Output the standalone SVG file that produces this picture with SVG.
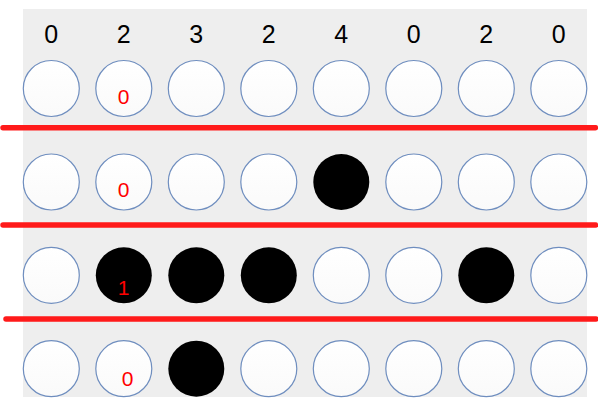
<svg xmlns="http://www.w3.org/2000/svg" width="598" height="413" viewBox="0 0 598 413">
<style>
.top{font-family:"Liberation Sans",Arial,sans-serif;font-size:25px;fill:#000;text-anchor:middle}
.red{font-family:"Liberation Sans",Arial,sans-serif;font-size:21px;fill:#ff0000;text-anchor:middle}
.e{fill:url(#g);stroke:#6f8ebf;stroke-width:1.2}
.f{fill:#000}
.sep{stroke:#ff1a1a;stroke-width:5.5;stroke-linecap:round}
</style>
<defs>
<linearGradient id="g" x1="0" y1="0" x2="0" y2="1">
<stop offset="0" stop-color="#ffffff"/>
<stop offset="1" stop-color="#fafafa"/>
</linearGradient>
</defs>
<rect x="23" y="9" width="564" height="388" fill="#eeeeee"/>
<g id="labels">
<text class="top" x="51.3" y="43">0</text>
<text class="top" x="123.8" y="43">2</text>
<text class="top" x="196.3" y="43">3</text>
<text class="top" x="268.8" y="43">2</text>
<text class="top" x="341.3" y="43">4</text>
<text class="top" x="413.8" y="43">0</text>
<text class="top" x="486.3" y="43">2</text>
<text class="top" x="558.8" y="43">0</text>
</g>
<g id="row1">
<circle class="e" cx="51.3" cy="88.5" r="28"/>
<circle class="e" cx="123.8" cy="88.5" r="28"/>
<circle class="e" cx="196.3" cy="88.5" r="28"/>
<circle class="e" cx="268.8" cy="88.5" r="28"/>
<circle class="e" cx="341.3" cy="88.5" r="28"/>
<circle class="e" cx="413.8" cy="88.5" r="28"/>
<circle class="e" cx="486.3" cy="88.5" r="28"/>
<circle class="e" cx="558.8" cy="88.5" r="28"/>
<text class="red" x="123.5" y="103.5">0</text>
</g>
<g id="row2">
<circle class="e" cx="51.3" cy="182" r="28"/>
<circle class="e" cx="123.8" cy="182" r="28"/>
<circle class="e" cx="196.3" cy="182" r="28"/>
<circle class="e" cx="268.8" cy="182" r="28"/>
<circle class="f" cx="341.3" cy="182" r="28"/>
<circle class="e" cx="413.8" cy="182" r="28"/>
<circle class="e" cx="486.3" cy="182" r="28"/>
<circle class="e" cx="558.8" cy="182" r="28"/>
<text class="red" x="123.5" y="197">0</text>
</g>
<g id="row3">
<circle class="e" cx="51.3" cy="275.3" r="28"/>
<circle class="f" cx="123.8" cy="275.3" r="28"/>
<circle class="f" cx="196.3" cy="275.3" r="28"/>
<circle class="f" cx="268.8" cy="275.3" r="28"/>
<circle class="e" cx="341.3" cy="275.3" r="28"/>
<circle class="e" cx="413.8" cy="275.3" r="28"/>
<circle class="f" cx="486.3" cy="275.3" r="28"/>
<circle class="e" cx="558.8" cy="275.3" r="28"/>
<text class="red" x="123.5" y="294.5">1</text>
</g>
<g id="row4">
<circle class="e" cx="51.3" cy="368.7" r="28"/>
<circle class="e" cx="123.8" cy="368.7" r="28"/>
<circle class="f" cx="196.3" cy="368.7" r="28"/>
<circle class="e" cx="268.8" cy="368.7" r="28"/>
<circle class="e" cx="341.3" cy="368.7" r="28"/>
<circle class="e" cx="413.8" cy="368.7" r="28"/>
<circle class="e" cx="486.3" cy="368.7" r="28"/>
<circle class="e" cx="558.8" cy="368.7" r="28"/>
<text class="red" x="127.7" y="386">0</text>
</g>
<g id="separators">
<line class="sep" x1="3" y1="127.7" x2="595.5" y2="127.7"/>
<line class="sep" x1="3" y1="225" x2="595.5" y2="225"/>
<line class="sep" x1="6" y1="319" x2="596" y2="319"/>
</g>
</svg>
